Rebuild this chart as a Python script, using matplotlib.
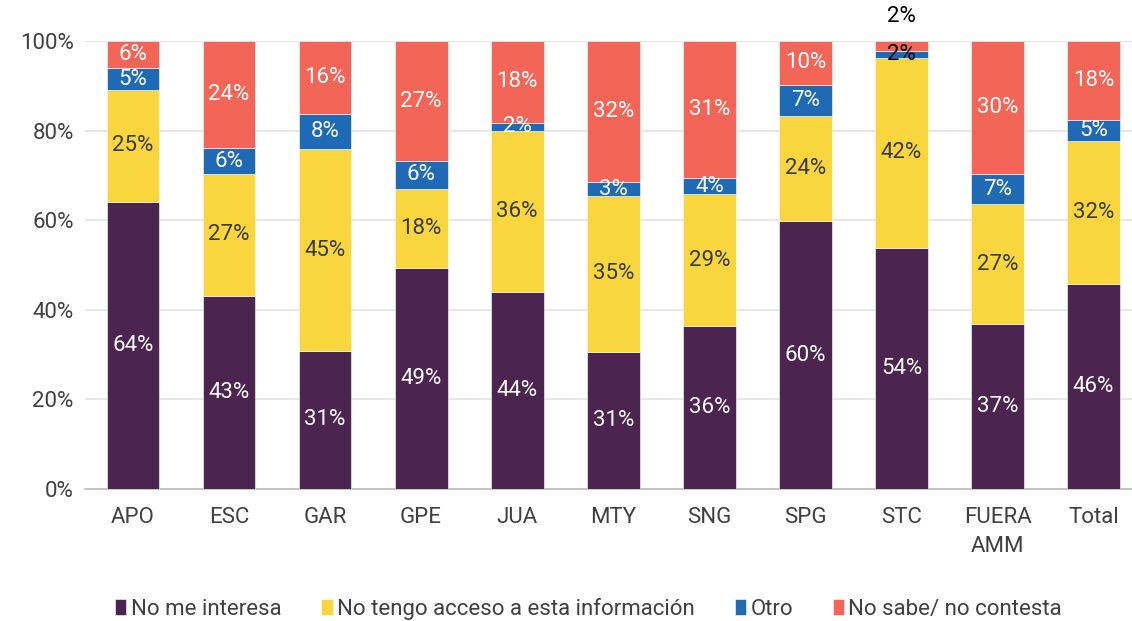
import matplotlib
matplotlib.use("Agg")
import matplotlib.pyplot as plt
import numpy as np

categories = ["APO", "ESC", "GAR", "GPE", "JUA", "MTY", "SNG", "SPG", "STC",
              "FUERA\nAMM", "Total"]
series_names = ["No me interesa", "No tengo acceso a esta información",
                "Otro", "No sabe/ no contesta"]
no_interesa = [64.1, 43.1, 30.8, 49.4, 44.0, 30.6, 36.4, 59.8, 53.8, 36.8, 45.8]
sin_acceso = [25.0, 27.2, 45.0, 17.6, 36.0, 34.8, 29.4, 23.5, 42.4, 26.8, 31.9]
otro = [4.8, 5.8, 7.8, 6.2, 1.8, 3.1, 3.6, 6.9, 1.6, 6.7, 4.6]
no_sabe = [6.1, 23.9, 16.4, 26.8, 18.2, 31.5, 30.6, 9.8, 2.2, 29.7, 17.7]

colors = ["#4B2550", "#F9D53E", "#1F6AB4", "#F26557"]
text_colors = ["white", "#3a3a3a", "white", "white"]
series = [no_interesa, sin_acceso, otro, no_sabe]

plt.rcParams['font.family'] = ['Roboto', 'DejaVu Sans']

fig = plt.figure(figsize=(11.32, 6.21), dpi=100)
ax = fig.add_axes([0.075, 0.2126, 0.925, 0.7214])

x = np.arange(len(categories))
bottom = np.zeros(len(categories))
for name, vals, col, tcol in zip(series_names, series, colors, text_colors):
    vals = np.array(vals)
    ax.bar(x, vals, bottom=bottom, width=0.55, color=col, label=name,
           edgecolor="white", linewidth=0.4, zorder=3)
    for i, v in enumerate(vals):
        yc = bottom[i] + v / 2
        c = tcol
        if categories[i] == "STC" and name == "No sabe/ no contesta":
            yc = 105.5
            c = "black"
        elif categories[i] == "STC" and name == "Otro":
            c = "black"
        ax.text(x[i], yc, "{:.0f}%".format(v), ha="center", va="center",
                color=c, fontsize=16, zorder=4, clip_on=False)
    bottom += vals

ax.set_xlim(-0.5, 10.4)
ax.set_ylim(0, 100)
ax.set_yticks(np.arange(0, 101, 20))
ax.set_yticklabels(["{}%".format(t) for t in range(0, 101, 20)])
ax.set_xticks(x)
ax.set_xticklabels(categories, linespacing=1.5)
ax.yaxis.grid(True, color="#e3e3e3", linewidth=1.2, zorder=0)
for s in ["top", "right", "left"]:
    ax.spines[s].set_visible(False)
ax.spines["bottom"].set_color("#bdbdbd")
ax.spines["bottom"].set_linewidth(1.2)
ax.tick_params(axis="both", length=0, labelsize=16, colors="#404040")
ax.tick_params(axis="x", pad=13)
ax.tick_params(axis="y", pad=8)

fig.legend(loc="lower center", bbox_to_anchor=(0.52, -0.03), ncol=4,
           frameon=False, fontsize=16, handlelength=0.5, handleheight=0.7,
           handletextpad=0.2, columnspacing=1.8, labelcolor="#404040")

fig.savefig("out.png", dpi=100)
